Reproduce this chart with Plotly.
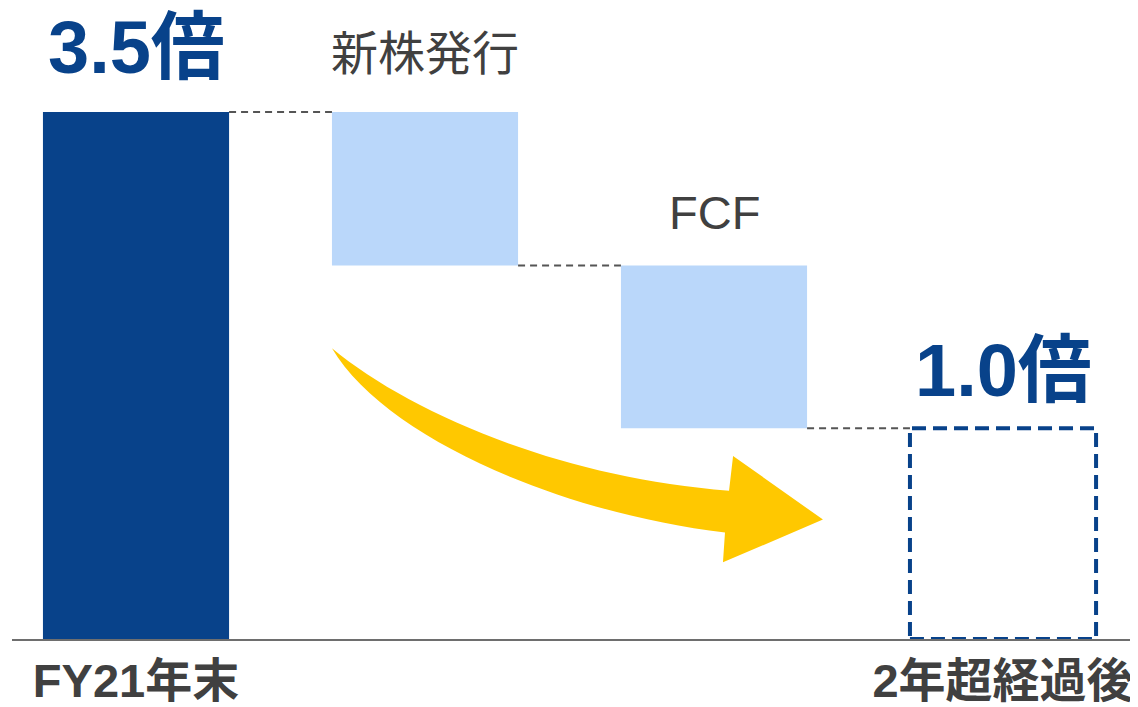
import plotly.graph_objects as go

# ---- data ----
categories = ["FY21年末", "新株発行", "FCF", "2年超経過後"]
start_value = 3.5          # FY21年末 bar height
changes = [-1.02, -1.08]   # 新株発行, FCF (decreases)
end_value = 1.4            # 2年超経過後 (dashed outline)
top_labels = ["3.5倍", "新株発行", "FCF", "1.0倍"]
tick_labels = ["FY21年末", "", "", "2年超経過後"]

DARK_BLUE = "#08428A"
LIGHT_BLUE = "#BAD7FA"
YELLOW = "#FFC800"
TEXT_GRAY = "#404040"
FONT = "Liberation Sans, Noto Sans CJK JP, sans-serif"
BAR_W = 0.644

xs = list(range(len(categories)))

# running levels
levels = [start_value]
for c in changes:
    levels.append(levels[-1] + c)

fig = go.Figure()

# first bar
fig.add_trace(go.Bar(x=[xs[0]], y=[start_value], base=[0], width=BAR_W,
                     marker=dict(color=DARK_BLUE, line=dict(width=0)),
                     hoverinfo="skip"))
# decrease bars
for i, c in enumerate(changes):
    fig.add_trace(go.Bar(x=[xs[i + 1]], y=[-c], base=[levels[i + 1]], width=BAR_W,
                         marker=dict(color=LIGHT_BLUE, line=dict(width=0)),
                         hoverinfo="skip"))

# dashed outline for end value
fig.add_shape(type="rect", xref="x", yref="y",
              x0=xs[3] - BAR_W / 2, x1=xs[3] + BAR_W / 2, y0=0, y1=end_value,
              line=dict(color=DARK_BLUE, width=4, dash="14px,7px"),
              fillcolor="rgba(0,0,0,0)", layer="above")

# connectors
conn_levels = [levels[0], levels[1], levels[2]]
for i, lv in enumerate(conn_levels):
    fig.add_shape(type="line", xref="x", yref="y",
                  x0=xs[i] + BAR_W / 2, x1=xs[i + 1] - BAR_W / 2, y0=lv, y1=lv,
                  line=dict(color="#555555", width=2, dash="7px,5px"))

# yellow curved arrow (decoration, data coordinates)
arrow_path = ("M 0.678,1.930 C 0.948,1.500 1.467,1.071 2.052,0.985 "
              "L 2.066,1.216 L 2.377,0.793 L 2.031,0.509 L 2.038,0.707 "
              "C 1.467,0.839 0.862,1.335 0.678,1.930 Z")
fig.add_shape(type="path", xref="x", yref="y", path=arrow_path,
              fillcolor=YELLOW, line=dict(width=0), layer="above")

# top labels
label_y = [3.93, 3.89, 2.83, 1.78]
for i, (t, yv) in enumerate(zip(top_labels, label_y)):
    big = i in (0, 3)
    fig.add_annotation(x=xs[i], y=yv, xref="x", yref="y", text=t, showarrow=False,
                       xanchor="center", yanchor="middle",
                       font=dict(family=FONT, size=74 if big else 47,
                                 color=DARK_BLUE if big else TEXT_GRAY,
                                 weight="bold" if big else "normal"))

# page body has an 8px margin: figure is placed at (8, 8) in the window
fig.update_layout(
    width=1130, height=699,
    margin=dict(l=4, r=0, t=0, b=65),
    paper_bgcolor="white", plot_bgcolor="white",
    showlegend=False, barmode="overlay",
    xaxis=dict(range=[-0.4291, 3.4671], showgrid=False, zeroline=False,
               showline=True, linecolor="#6E6E6E", linewidth=2,
               tickmode="array", tickvals=xs, ticktext=tick_labels, ticks="",
               tickfont=dict(family=FONT, size=47, color=TEXT_GRAY, weight="bold")),
    yaxis=dict(range=[0, (642 - 8) / 151.3], showgrid=False, zeroline=False,
               showline=False, showticklabels=False),
)

fig.write_html("out.html")
